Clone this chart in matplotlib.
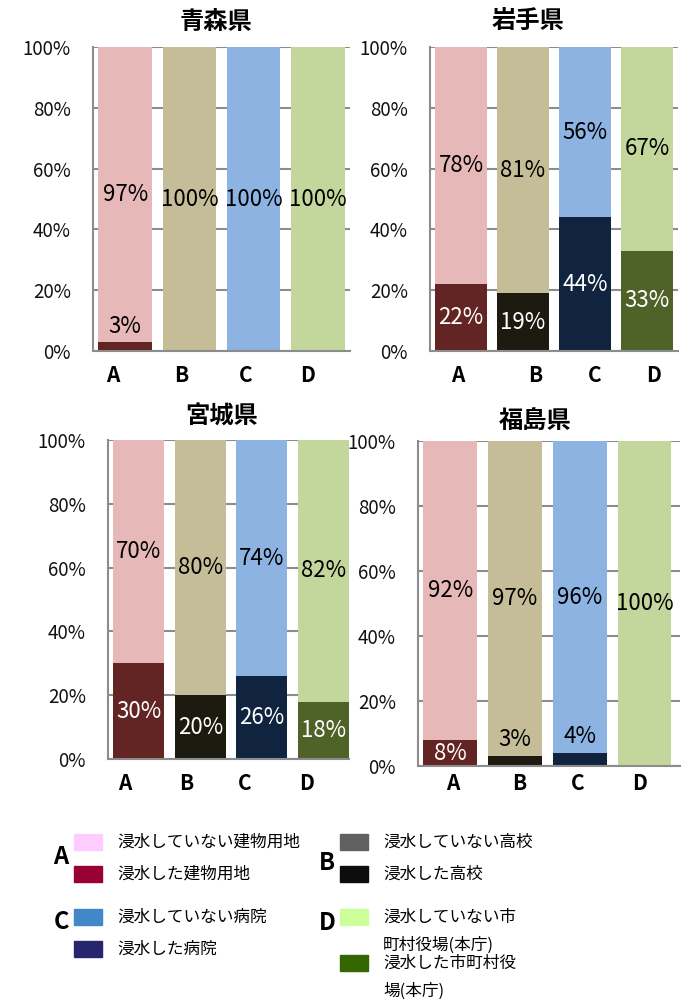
import matplotlib
matplotlib.use('Agg')
import matplotlib.pyplot as plt
from matplotlib.patches import Rectangle

plt.rcParams['font.family'] = ['Noto Sans CJK JP', 'DejaVu Sans']

categories = ['A', 'B', 'C', 'D']

aomori_flooded = [3, 0, 0, 0]
aomori_dry = [97, 100, 100, 100]
iwate_flooded = [22, 19, 44, 33]
iwate_dry = [78, 81, 56, 67]
miyagi_flooded = [30, 20, 26, 18]
miyagi_dry = [70, 80, 74, 82]
fukushima_flooded = [8, 3, 4, 0]
fukushima_dry = [92, 97, 96, 100]

yticks = [0, 20, 40, 60, 80, 100]
ytick_labels = ['0%', '20%', '40%', '60%', '80%', '100%']

dry_colors = ['#E6B8B7', '#C4BD97', '#8DB3E2', '#C3D69B']
wet_colors = ['#632523', '#1D1B10', '#10243F', '#4F6228']

legend_dry = ['#FFCCFF', '#606060', '#4287C7', '#CCFF99']
legend_wet = ['#990033', '#0D0D0D', '#26266F', '#336600']

W, H = 684, 1002
fig = plt.figure(figsize=(W / 100, H / 100), dpi=100)

def add_px_axes(l, t, r, b):
    return fig.add_axes([l / W, 1 - b / H, (r - l) / W, (b - t) / H])

# name, flooded, dry, box(px), xlim right, title pos, xtick offsets, xtick pad
panels = [
    ('青森県', aomori_flooded, aomori_dry, (93, 47, 350, 351), 3.5, (216, 22), [-0.2, -0.125, -0.125, -0.16], 10),
    ('岩手県', iwate_flooded, iwate_dry, (430, 47, 678, 351), 3.5, (528, 22), [-0.05, 0.19, 0.15, 0.11], 10),
    ('宮城県', miyagi_flooded, miyagi_dry, (108, 440, 349, 759), 3.42, (222, 417), [-0.23, -0.23, -0.27, -0.27], 10),
    ('福島県', fukushima_flooded, fukushima_dry, (418, 441, 680, 766), 3.55, (535, 421), [0.03, 0.06, -0.03, -0.08], 5),
]

for name, wet, dry, box, xr, tpos, xoff, xpad in panels:
    ax = add_px_axes(*box)
    x = list(range(len(categories)))
    ax.bar(x, wet, width=0.83, color=wet_colors, zorder=3)
    ax.bar(x, dry, bottom=wet, width=0.83, color=dry_colors, zorder=3)
    ax.set_xlim(-0.5, xr)
    ax.set_ylim(0, 100)
    ax.set_yticks(yticks)
    ax.set_yticklabels(ytick_labels, fontsize=13.5, color='#111111')
    ax.set_xticks([i + o for i, o in zip(x, xoff)])
    ax.set_xticklabels(categories, fontsize=15, fontweight='bold')
    ax.tick_params(axis='y', length=0, pad=16)
    ax.tick_params(axis='x', length=0, pad=xpad)
    ax.grid(axis='y', color='#8C8C8C', linewidth=1.5, zorder=0)
    for s in ['top', 'right']:
        ax.spines[s].set_visible(False)
    for s in ['left', 'bottom']:
        ax.spines[s].set_color('#8C8C8C')
        ax.spines[s].set_linewidth(1.5)
        ax.spines[s].set_zorder(4)
    for i in x:
        w, d = wet[i], dry[i]
        if w > 0:
            if w >= 6:
                ax.text(i, w / 2, f'{w}%', ha='center', va='center', fontsize=16, color='white', zorder=5)
            else:
                ax.text(i, w + 5, f'{w}%', ha='center', va='center', fontsize=16, color='black', zorder=5)
        if d > 0:
            ax.text(i, w + d / 2, f'{d}%', ha='center', va='center', fontsize=16, color='black', zorder=5)
    fig.text(tpos[0] / W, 1 - tpos[1] / H, name, ha='center', va='center', fontsize=17.5, fontweight='bold')

# legend area in pixel coordinates
lg = fig.add_axes([0, 0, 1, 182 / H])
lg.set_xlim(0, W)
lg.set_ylim(H, 820)
lg.axis('off')

legend_labels = [
    (['浸水していない建物用地'], ['浸水した建物用地']),
    (['浸水していない高校'], ['浸水した高校']),
    (['浸水していない病院'], ['浸水した病院']),
    (['浸水していない市', '町村役場(本庁)'], ['浸水した市町村役', '場(本庁)']),
]
# letter pos, swatch x, text x, first swatch y, second swatch y
legend_layout = [
    ((61, 857), 74, 117, 834, 866),
    ((327, 863), 340, 383, 834, 866),
    ((61, 922), 74, 117, 909, 941),
    ((327, 923), 340, 383, 909, 955),
]

for k, (dry_lab, wet_lab) in enumerate(legend_labels):
    (lx, ly), sx, tx, y1, y2 = legend_layout[k]
    lg.text(lx, ly, categories[k], ha='center', va='center', fontsize=17, fontweight='bold')
    for y, col, lines in [(y1, legend_dry[k], dry_lab), (y2, legend_wet[k], wet_lab)]:
        lg.add_patch(Rectangle((sx, y), 28, 16, color=col))
        for j, line in enumerate(lines):
            lg.text(tx, y + 8 + j * 28, line, ha='left', va='center', fontsize=12)

fig.savefig('out.png', dpi=100)
